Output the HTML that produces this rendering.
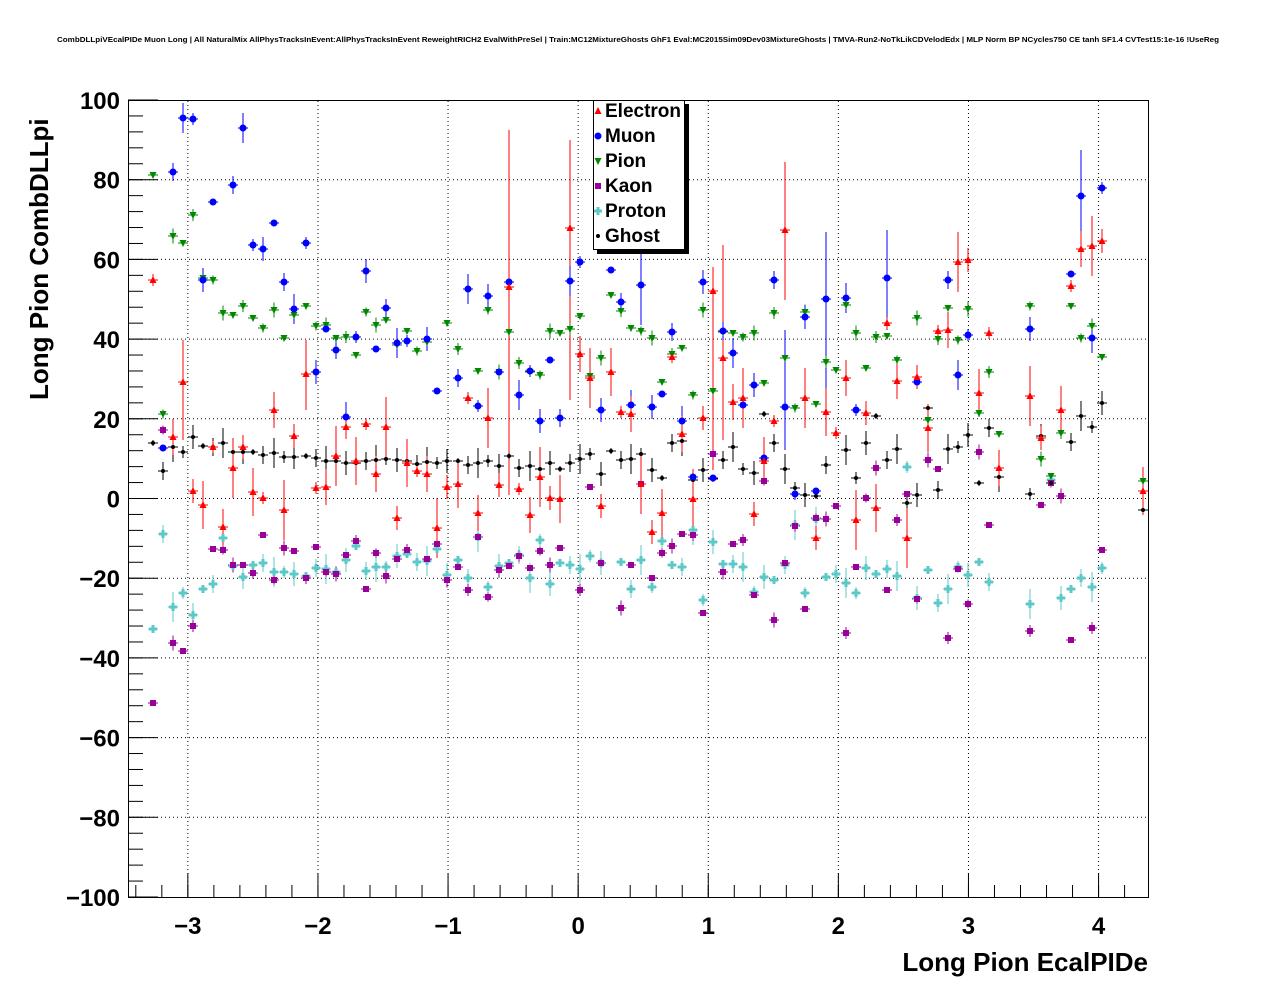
<!DOCTYPE html>
<html><head><style>body{margin:0;background:#fff}svg{display:block}</style></head><body>
<svg width="1276" height="996" xmlns="http://www.w3.org/2000/svg" font-family="Liberation Sans, sans-serif">
<rect width="1276" height="996" fill="#fff"/>
<text x="57" y="42" font-size="7.5" font-weight="bold" textLength="1162" lengthAdjust="spacingAndGlyphs">CombDLLpiVEcalPIDe Muon Long | All NaturalMix AllPhysTracksInEvent:AllPhysTracksInEvent ReweightRICH2 EvalWithPreSel | Train:MC12MixtureGhosts GhF1 Eval:MC2015Sim09Dev03MixtureGhosts | TMVA-Run2-NoTkLikCDVelodEdx | MLP Norm BP NCycles750 CE tanh SF1.4 CVTest15:1e-16 !UseReg</text>
<g id="grid" stroke="#000" stroke-width="1" stroke-dasharray="1,3"></g>
<g id="axes" stroke="#000" stroke-width="1"></g>
<g id="labels" font-size="24" font-weight="bold"></g>
<g id="data"></g>
<rect x="128.5" y="100.5" width="1020" height="797" fill="none" stroke="#000"/>
<rect x="597" y="104" width="92" height="150" fill="#000"/>
<rect x="593.5" y="100.5" width="91" height="149" fill="#fff" stroke="#000"/>
<g font-size="19" font-weight="bold">
<text x="605" y="117">Electron</text><text x="605" y="142">Muon</text><text x="605" y="167">Pion</text>
<text x="605" y="192">Kaon</text><text x="605" y="217">Proton</text><text x="605" y="242">Ghost</text></g>
<g id="leg"></g>
<text x="1148" y="971" font-size="26" font-weight="bold" text-anchor="end">Long Pion EcalPIDe</text>
<text transform="translate(48,400) rotate(-90)" font-size="26" font-weight="bold">Long Pion CombDLLpi</text>
</svg>
<script>
const NS="http://www.w3.org/2000/svg";
function el(p,t,a){const e=document.createElementNS(NS,t);for(const k in a)e.setAttribute(k,a[k]);p.appendChild(e);return e;}
const grid=document.getElementById('grid'),axes=document.getElementById('axes'),lab=document.getElementById('labels');
let data=document.getElementById('data');
const X0=-3.46,X1=4.38,xp=v=>128+(v-X0)/(X1-X0)*1020, yp=v=>498.5-v*3.985;
for(let v=-3;v<=4;v++){const x=xp(v);el(grid,'line',{x1:x,x2:x,y1:101,y2:897});
 el(axes,'line',{x1:x,x2:x,y1:897,y2:873});
 const t=el(lab,'text',{x:x,y:934,'text-anchor':'middle'});t.textContent=(v<0?'\u2212':'')+Math.abs(v);}
for(let v=-3.4;v<4.38;v+=0.2){const x=xp(v);el(axes,'line',{x1:x,x2:x,y1:897,y2:885});}
for(let v=-100;v<=100;v+=20){const y=yp(v);if(v>-100&&v<100)el(grid,'line',{x1:129,x2:1148,y1:y,y2:y});
 el(axes,'line',{x1:128,x2:158,y1:y,y2:y});
 const t=el(lab,'text',{x:120,y:y+9,'text-anchor':'end'});t.textContent=(v<0?'\u2212':'')+Math.abs(v);}
for(let v=-100;v<=100;v+=4){const y=yp(v);el(axes,'line',{x1:128,x2:143,y1:y,y2:y});}
const E=[[153,280],[173,437],[183,382],[193,491],[203,505],[213,447],[223,527],[233,468],[243,447],[253,492],[263,498],[274,410],[284,510],[294,436],[306,374],[316,488],[326,487],[336,456],[346,427],[356,461],[366,424],[376,474],[386,427],[397,518],[407,463],[417,471],[427,474],[437,528],[447,487],[458,484],[468,398],[478,513],[488,418],[499,485],[509,287],[519,489],[530,515],[540,477],[550,498],[560,499],[570,228],[580,354],[590,378],[601,506],[611,372],[621,412],[631,414],[641,484],[652,532],[662,513],[672,357],[682,434],[693,499],[703,418],[713,291],[723,358],[733,402],[743,398],[754,514],[764,461],[774,421],[785,230],[805,398],[816,538],[826,412],[836,433],[846,378],[856,520],[866,413],[876,508],[887,323],[897,381],[907,538],[917,377],[928,428],[938,331],[948,330],[958,262],[968,260],[979,393],[989,333],[999,468],[1030,396],[1041,438],[1061,410],[1071,286],[1081,249],[1092,246],[1102,241],[1143,491]];
const M=[[163,448],[173,172],[183,118],[193,119],[203,280],[213,202],[233,185],[243,128],[253,245],[263,249],[274,223],[284,282],[294,309],[306,243],[316,372],[326,329],[336,350],[346,417],[356,337],[366,271],[376,349],[386,308],[397,343],[407,341],[427,339],[437,391],[458,378],[468,289],[478,406],[488,296],[499,372],[509,282],[519,395],[530,371],[540,421],[550,360],[560,418],[570,281],[580,262],[601,410],[611,270],[621,302],[631,405],[641,285],[652,407],[662,394],[672,332],[682,421],[693,477],[703,282],[713,478],[723,331],[733,353],[743,405],[754,385],[764,458],[774,280],[785,407],[795,494],[805,317],[816,491],[826,299],[846,298],[856,410],[887,278],[917,382],[948,280],[958,375],[968,335],[1030,329],[1071,274],[1081,196],[1092,338],[1102,188]];
const P=[[153,175],[163,414],[173,236],[183,243],[193,215],[203,278],[213,280],[223,313],[233,315],[243,306],[253,318],[263,328],[274,310],[284,338],[294,315],[306,306],[316,326],[326,325],[336,338],[346,337],[356,355],[366,312],[376,325],[386,320],[397,345],[407,331],[417,351],[427,342],[447,323],[458,349],[478,371],[488,310],[499,372],[509,332],[519,363],[530,372],[540,375],[550,331],[560,333],[570,329],[580,316],[590,376],[601,358],[611,295],[621,311],[631,328],[641,331],[652,338],[662,382],[672,354],[682,348],[693,395],[703,310],[713,391],[723,332],[733,333],[743,337],[754,333],[764,383],[774,313],[785,358],[795,408],[805,312],[816,404],[826,362],[836,370],[846,305],[856,333],[866,368],[876,337],[887,336],[897,360],[917,318],[928,420],[938,339],[948,308],[958,340],[968,309],[979,413],[989,372],[999,434],[1030,306],[1041,459],[1051,476],[1061,433],[1071,306],[1081,338],[1092,326],[1102,357],[1143,481]];
const K=[[153,703],[163,430],[173,643],[183,651],[193,626],[213,549],[223,550],[233,565],[243,565],[253,573],[263,535],[274,580],[284,548],[294,551],[306,578],[316,547],[326,572],[336,574],[346,555],[356,541],[366,589],[376,553],[386,576],[397,559],[407,550],[427,559],[437,544],[447,580],[458,567],[468,590],[478,537],[488,597],[499,570],[509,566],[519,556],[530,568],[540,551],[550,565],[560,548],[580,590],[590,487],[601,563],[621,608],[631,565],[641,484],[652,578],[662,553],[672,546],[682,534],[693,535],[703,613],[713,454],[723,572],[733,544],[743,540],[754,595],[764,481],[774,620],[785,563],[795,526],[805,609],[816,518],[826,519],[836,506],[846,633],[856,567],[866,498],[876,468],[887,590],[897,520],[907,494],[917,599],[928,460],[938,469],[948,638],[958,569],[968,604],[979,452],[989,525],[1030,631],[1041,505],[1051,483],[1061,496],[1071,640],[1092,628],[1102,550]];
const R=[[153,629],[163,534],[173,607],[183,593],[193,615],[203,589],[213,584],[223,538],[233,566],[243,577],[253,565],[263,563],[274,572],[284,572],[294,574],[306,576],[316,568],[326,569],[336,572],[346,560],[356,546],[366,571],[376,567],[386,567],[397,556],[407,554],[417,562],[427,561],[437,549],[447,575],[458,560],[468,578],[478,537],[488,587],[499,566],[509,563],[519,555],[530,578],[540,540],[550,584],[560,563],[570,565],[580,569],[590,556],[601,563],[621,562],[631,589],[641,560],[652,587],[662,541],[672,565],[682,567],[693,530],[703,600],[713,542],[723,564],[733,564],[743,567],[754,592],[764,577],[774,580],[785,565],[795,525],[805,593],[816,519],[826,577],[836,574],[846,583],[856,593],[866,568],[876,574],[887,569],[897,576],[907,467],[917,598],[928,570],[938,603],[948,589],[958,567],[968,575],[979,562],[989,582],[1030,604],[1051,480],[1061,598],[1071,589],[1081,578],[1092,587],[1102,568]];
const G=[[153,443],[163,471],[173,447],[183,452],[193,437],[203,446],[213,447],[223,443],[233,452],[243,452],[253,452],[263,455],[274,453],[284,457],[294,457],[306,456],[316,458],[326,461],[336,461],[346,463],[356,463],[366,461],[376,460],[386,459],[397,460],[407,461],[417,464],[427,462],[437,463],[447,461],[458,461],[468,465],[478,463],[488,461],[499,466],[509,456],[519,468],[530,466],[540,469],[550,463],[560,469],[570,463],[580,459],[590,454],[601,474],[611,451],[621,460],[631,459],[641,454],[652,470],[662,478],[672,443],[682,441],[693,480],[703,470],[713,479],[723,460],[733,447],[743,469],[754,473],[764,414],[774,443],[785,469],[795,488],[805,495],[816,496],[826,465],[846,450],[856,478],[866,443],[876,416],[887,460],[897,449],[907,503],[917,495],[928,408],[938,490],[948,449],[958,447],[968,435],[979,483],[989,428],[999,477],[1030,494],[1041,436],[1051,483],[1071,442],[1081,416],[1092,427],[1102,403],[1143,510]];
function bars(pts,c,e){pts.forEach(([x,y],i)=>{const v=e*(1+(i*7%5));el(data,'line',{x1:x-5,x2:x+5,y1:y,y2:y,stroke:c});el(data,'line',{x1:x,x2:x,y1:y-v,y2:y+v,stroke:c});});}
function mark(pts,c,f){pts.forEach(([x,y])=>f(x,y,c));}
const tri=(x,y,c)=>el(data,'polygon',{points:`${x-3.5},${y+3} ${x+3.5},${y+3} ${x},${y-4}`,fill:c});
const tri2=(x,y,c)=>el(data,'polygon',{points:`${x-3.5},${y-3} ${x+3.5},${y-3} ${x},${y+4}`,fill:c});
const circ=(x,y,c)=>el(data,'circle',{cx:x,cy:y,r:3.5,fill:c});
const sq=(x,y,c)=>el(data,'rect',{x:x-3,y:y-3,width:6,height:6,fill:c});
const crs=(x,y,c)=>{el(data,'rect',{x:x-4,y:y-1.5,width:8,height:3,fill:c});el(data,'rect',{x:x-1.5,y:y-4,width:3,height:8,fill:c});};
const dot=(x,y,c)=>el(data,'circle',{cx:x,cy:y,r:2,fill:c});
[[509,130,495],[570,140,400],[785,162,300],[723,245,440],[306,340,410],[183,340,440],[713,300,470]].forEach(([x,a,b])=>el(data,'line',{x1:x,x2:x,y1:a,y2:b,stroke:'#f00'}));
[[826,232,390],[887,230,330],[1081,150,240],[785,330,450],[641,245,325]].forEach(([x,a,b])=>el(data,'line',{x1:x,x2:x,y1:a,y2:b,stroke:'#00f'}));
bars(R,'#5cc8c8',3);bars(K,'#909',1.5);bars(P,'#080',1.5);bars(G,'#000',3);bars(M,'#00f',3);bars(E,'#f00',6);
mark(R,'#5cc8c8',crs);mark(K,'#909',sq);mark(P,'#080',tri2);mark(G,'#000',dot);mark(M,'#00f',circ);mark(E,'#f00',tri);
data=document.getElementById('leg');
tri(598,111,'#f00');circ(598,136,'#00f');tri2(598,161,'#080');sq(598,186,'#909');crs(598,211,'#5cc8c8');dot(598,236,'#000');
</script>
</body></html>
